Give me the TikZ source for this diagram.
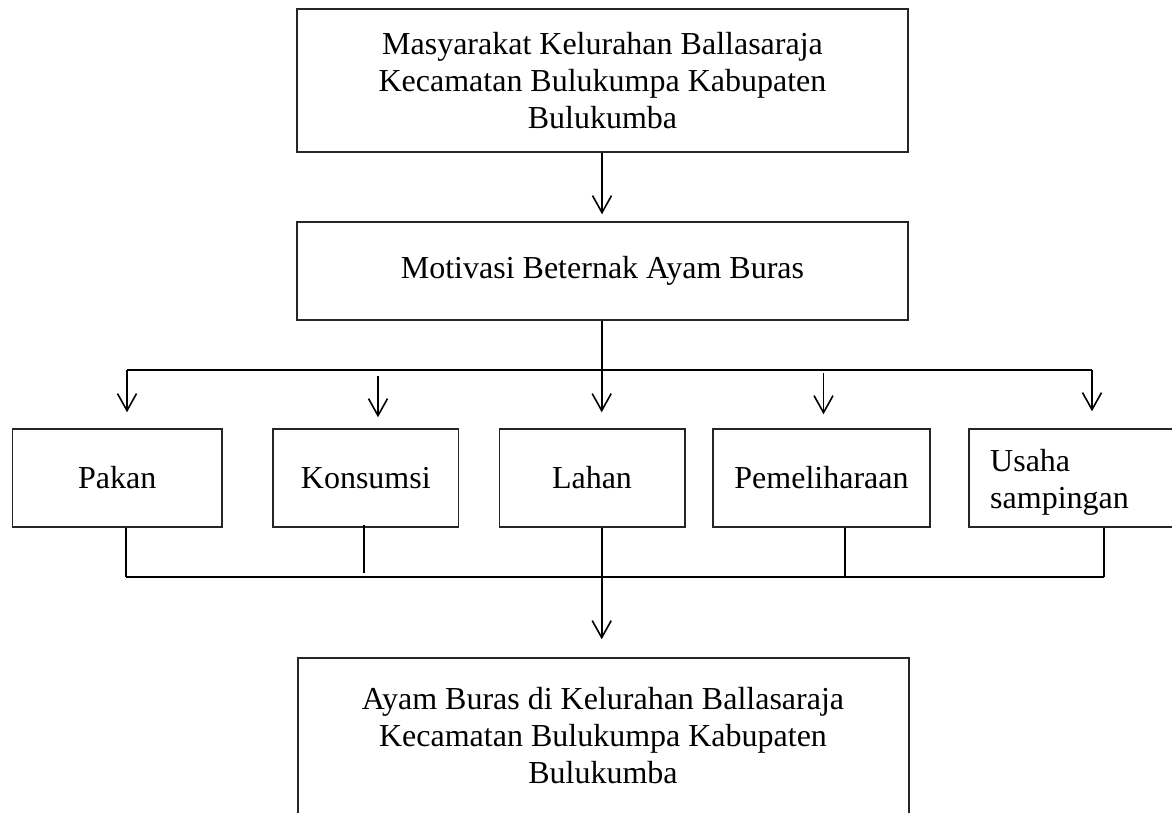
\documentclass[tikz,border=0pt]{standalone}
\usepackage{fontspec}
\setmainfont{Liberation Serif}
\usetikzlibrary{arrows.meta}
\begin{document}
\begin{tikzpicture}[x=1pt,y=-1pt,
  font=\fontsize{32}{37}\selectfont,
  box/.style={draw=black!85, line width=1.5pt, inner sep=0pt, align=center},
  conn/.style={line width=1.6pt, black},
  arr/.style={conn, -{Straight Barb[length=17pt,width=19pt]}},
  lbl/.style={inner sep=0pt, align=center}]
\useasboundingbox (0,0) rectangle (1172,812);
\clip (0,0) rectangle (1172,812);
% big boxes
\node[box, minimum width=611pt, minimum height=143pt] (top) at (602.5,80.5)
  {Masyarakat Kelurahan Ballasaraja\\Kecamatan Bulukumpa Kabupaten\\Bulukumba};
\node[box, minimum width=611pt, minimum height=98pt] (mid) at (602.5,271) {Motivasi Beternak Ayam Buras};
\node[box, minimum width=611pt, minimum height=212pt] (bot) at (603.5,764) {};
\node[lbl] (botT) at (603,736) {Ayam Buras di Kelurahan Ballasaraja\\Kecamatan Bulukumpa Kabupaten\\Bulukumba};
% row boxes
\node[box, minimum width=209.5pt, minimum height=98pt] (pakan) at (117.3,478) {Pakan};
\node[box, minimum width=185.5pt, minimum height=98pt] (kons) at (365.8,478) {Konsumsi};
\node[box, minimum width=185.5pt, minimum height=98pt] (lahan) at (592,478) {Lahan};
\node[box, minimum width=217pt, minimum height=98pt] (pem) at (821.5,478) {Pemeliharaan};
\node[box, minimum width=221pt, minimum height=98pt] (usaha) at (1079.5,478) {};
\node[lbl, align=left, anchor=west] (usahaT) at (990,482) {Usaha\\sampingan};
% top arrow
\draw[arr, shorten >=7pt] (top.south -| 602,0) -- (mid.north -| 602,0);
% fan out bus
\coordinate (b1) at (127,370);
\coordinate (b2) at (378,370);
\coordinate (b3) at (601.7,370);
\coordinate (b4) at (823.5,370);
\coordinate (b5) at (1092,370);
\draw[conn] (mid.south -| b3) -- (b3);
\draw[conn] (b1) -- (b5);
\draw[arr, shorten >=16pt] (b1) -- (b1 |- pakan.north);
\draw[arr, shorten <=6pt, shorten >=11pt] (b2) -- (b2 |- kons.north);
\draw[arr, shorten >=16pt] (b3) -- (b3 |- lahan.north);
\draw[arr, shorten <=3pt, shorten >=14pt] (b4) -- (b4 |- pem.north);
\draw[arr, shorten >=17pt] (b5) -- (b5 |- usaha.north);
% collecting bus
\coordinate (c1) at (126,577);
\coordinate (c2) at (364,577);
\coordinate (c3) at (601.7,577);
\coordinate (c4) at (845,577);
\coordinate (c5) at (1104,577);
\draw[conn] (c1 |- pakan.south) -- (c1);
\draw[conn, shorten <=-3pt, shorten >=4pt] (c2 |- kons.south) -- (c2);
\draw[conn] (c4 |- pem.south) -- (c4);
\draw[conn] (c5 |- usaha.south) -- (c5);
\draw[conn] (c1) -- (c5);
\draw[arr, shorten >=18pt] (c3 |- lahan.south) -- (c3 |- bot.north);
\end{tikzpicture}
\end{document}
